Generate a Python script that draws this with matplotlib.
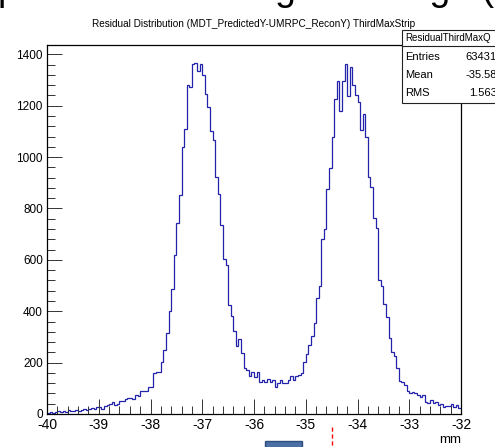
import numpy as np
import matplotlib
matplotlib.use("Agg")
import matplotlib.pyplot as plt
from matplotlib.ticker import MultipleLocator, FormatStrFormatter
from matplotlib.patches import Rectangle
from matplotlib.lines import Line2D

plt.rcParams['font.family'] = ['Liberation Sans', 'DejaVu Sans']
plt.rcParams['axes.unicode_minus'] = False

# histogram: 160 bins from -40 to -32 mm
x_lo, x_hi = -40.0, -32.0
counts = [
    5, 9, 4, 8, 10, 7, 12, 9, 14, 11,
    13, 15, 12, 17, 20, 16, 19, 22, 18, 26,
    29, 20, 33, 36, 38, 48, 36, 40, 52, 50,
    58, 61, 63, 60, 74, 72, 88, 91, 90, 104,
    107, 159, 165, 165, 202, 250, 317, 402, 486, 618,
    745, 853, 1040, 1108, 1280, 1273, 1361, 1368, 1335, 1361,
    1318, 1244, 1196, 1101, 1066, 922, 857, 735, 603, 581,
    425, 380, 324, 263, 291, 237, 178, 172, 146, 165,
    143, 165, 126, 133, 126, 135, 126, 133, 107, 120,
    133, 120, 122, 133, 146, 133, 148, 152, 159, 202,
    234, 267, 302, 356, 451, 497, 683, 722, 876, 956,
    1079, 1225, 1296, 1179, 1296, 1361, 1238, 1352, 1280, 1240,
    1215, 1104, 1166, 1079, 922, 883, 763, 724, 523, 499,
    429, 376, 295, 243, 226, 178, 130, 126, 113, 90,
    83, 87, 81, 74, 68, 74, 48, 42, 55, 42,
    48, 35, 39, 29, 31, 31, 39, 26, 35, 22,
]
title = "Residual Distribution (MDT_PredictedY-UMRPC_ReconY) ThirdMaxStrip"
stat_name = "ResidualThirdMaxQ"
stat_labels = ["Entries", "Mean", "RMS"]
stat_values = ["63431", "-35.58", "1.563"]
slide_text = "p with the 3rd largest charge ("

W, H = 495, 447
fig = plt.figure(figsize=(W / 100, H / 100), dpi=100)
fig.patch.set_facecolor('white')

def fx(px):
    return px / W

def fy(py):
    return 1 - py / H

ax = fig.add_axes([fx(47), fy(414), fx(461) - fx(47), fy(45) - fy(414)])
edges = np.linspace(x_lo, x_hi, len(counts) + 1)
ax.stairs(counts, edges, color='#2222aa', lw=0.9, baseline=None)

ax.set_xlim(x_lo, x_hi)
ax.set_ylim(0, 1.05 * max(counts))
ax.xaxis.set_major_locator(MultipleLocator(1))
ax.xaxis.set_minor_locator(MultipleLocator(0.2))
ax.yaxis.set_major_locator(MultipleLocator(200))
ax.yaxis.set_minor_locator(MultipleLocator(40))
ax.xaxis.set_major_formatter(FormatStrFormatter('%d'))
ax.yaxis.set_major_formatter(FormatStrFormatter('%d'))
ax.tick_params(which='major', direction='in', length=11, width=0.7, color='#333333')
ax.tick_params(which='minor', direction='in', length=6, width=0.7, color='#333333')
ax.tick_params(axis='x', labelsize=10, pad=3)
ax.tick_params(axis='y', labelsize=8.5, pad=3)
for s in ax.spines.values():
    s.set_linewidth(0.9)
ax.set_xlabel('mm', loc='right', fontsize=9.5, labelpad=1)

fig.text(fx(254), fy(24), title, ha='center', va='center', fontsize=7.2)

# stats box
fig.add_artist(Rectangle((fx(402), fy(103)), fx(600) - fx(402), fy(30) - fy(103),
                         transform=fig.transFigure, facecolor='white',
                         edgecolor='#222222', lw=0.8, clip_on=False))
fig.add_artist(Line2D([fx(402), fx(495)], [fy(46), fy(46)], transform=fig.transFigure,
                      color='#222222', lw=0.8))
fig.text(fx(405), fy(38), stat_name, ha='left', va='center', fontsize=7)
for k, (lab, val) in enumerate(zip(stat_labels, stat_values)):
    yy = fy(57 + 18 * k)
    fig.text(fx(405), yy, lab, ha='left', va='center', fontsize=8)
    fig.text(fx(497), yy, val, ha='right', va='center', fontsize=8)

# slide decorations below the plot
fig.add_artist(Rectangle((fx(265), fy(452)), fx(302) - fx(265), fy(441) - fy(452),
                         transform=fig.transFigure, facecolor='#4a6fa5',
                         edgecolor='#2f4f7f', lw=1))
fig.add_artist(Line2D([fx(332), fx(332)], [fy(427), fy(447)], transform=fig.transFigure,
                      color='red', lw=1, ls=(0, (3, 2))))

# cut-off slide heading at the very top
fig.text(fx(-2), fy(0), slide_text, ha='left', va='baseline', fontsize=27, color='black')

fig.savefig('out.png', dpi=100)
